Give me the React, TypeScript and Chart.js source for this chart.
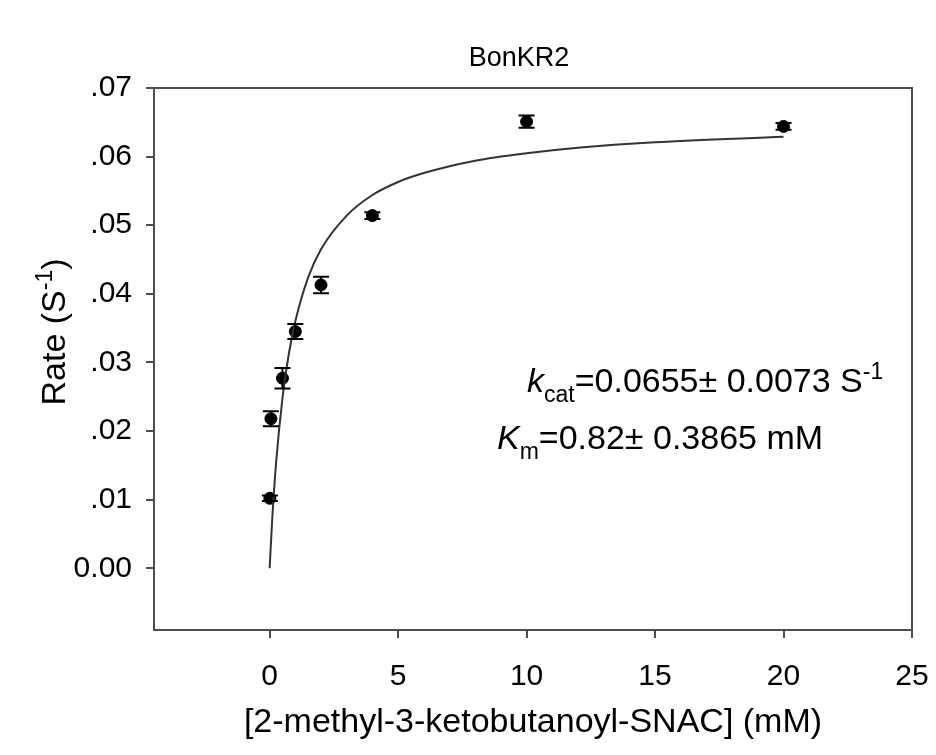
import React, { useEffect, useRef } from "react";
import { Chart, registerables } from "chart.js";

Chart.register(...registerables);

// ---- data ----
const concentrations = [0.01, 0.05, 0.5, 1, 2, 4, 10, 20];
const rates = [0.0102, 0.0218, 0.0277, 0.0345, 0.0413, 0.0514, 0.0651, 0.0644];
const rateErrors = [0.0004, 0.0011, 0.0015, 0.0011, 0.0012, 0.0005, 0.0009, 0.0005];

const fitX = [0, 0.1, 0.25, 0.5, 0.75, 1, 1.5, 2, 3, 4, 5, 6, 8, 10, 12, 15, 20];
const fitY = [0, 0.0071, 0.0153, 0.0248, 0.0313, 0.036, 0.0424, 0.0465, 0.0514, 0.0544, 0.0563, 0.0576, 0.0594, 0.0605, 0.0613, 0.0621, 0.0629];

const xTicks = [0, 5, 10, 15, 20, 25];
const yTicks = [0, 0.01, 0.02, 0.03, 0.04, 0.05, 0.06, 0.07];
const yTickLabels = ["0.00", ".01", ".02", ".03", ".04", ".05", ".06", ".07"];

const chartTitle = "BonKR2";
const xTitle = "[2-methyl-3-ketobutanoyl-SNAC] (mM)";

const FONT = "'Liberation Sans', Arial, sans-serif";
const TICK_FS = 30;
const TITLE_FS = 27;
const LABEL_FS = 34;
const AXIS_COLOR = "#4d4d4d";

const framePlugin = {
  id: "frame",
  afterDatasetsDraw(chart: any) {
    const { ctx, chartArea } = chart;
    ctx.save();
    ctx.strokeStyle = AXIS_COLOR;
    ctx.lineWidth = 2;
    ctx.beginPath();
    ctx.moveTo(chartArea.left, chartArea.top);
    ctx.lineTo(chartArea.right, chartArea.top);
    ctx.lineTo(chartArea.right, chartArea.bottom);
    ctx.stroke();
    ctx.restore();
  },
};

const errorBarPlugin = {
  id: "errorBars",
  afterDatasetsDraw(chart: any) {
    const { ctx } = chart;
    const xs = chart.scales.x;
    const ys = chart.scales.y;
    ctx.save();
    ctx.strokeStyle = "#000";
    ctx.lineWidth = 2;
    concentrations.forEach((c, i) => {
      const px = xs.getPixelForValue(c);
      const top = ys.getPixelForValue(rates[i] + rateErrors[i]);
      const bot = ys.getPixelForValue(rates[i] - rateErrors[i]);
      ctx.beginPath();
      ctx.moveTo(px, top);
      ctx.lineTo(px, bot);
      ctx.moveTo(px - 8, top);
      ctx.lineTo(px + 8, top);
      ctx.moveTo(px - 8, bot);
      ctx.lineTo(px + 8, bot);
      ctx.stroke();
    });
    ctx.restore();
  },
};

type Part = { t: string; italic?: boolean; sub?: boolean; sup?: boolean };

function drawRich(ctx: CanvasRenderingContext2D, x: number, y: number, parts: Part[], size: number) {
  let cx = x;
  parts.forEach((p) => {
    const s = p.sub || p.sup ? Math.round(size * 0.68) : size;
    ctx.font = `${p.italic ? "italic " : ""}${s}px ${FONT}`;
    const dy = p.sub ? size * 0.28 : p.sup ? -size * 0.38 : 0;
    ctx.fillText(p.t, cx, y + dy);
    cx += ctx.measureText(p.t).width;
  });
  return cx - x;
}

function measureRich(ctx: CanvasRenderingContext2D, parts: Part[], size: number) {
  let w = 0;
  parts.forEach((p) => {
    const s = p.sub || p.sup ? Math.round(size * 0.68) : size;
    ctx.font = `${p.italic ? "italic " : ""}${s}px ${FONT}`;
    w += ctx.measureText(p.t).width;
  });
  return w;
}

const textPlugin = {
  id: "texts",
  afterDraw(chart: any) {
    const { ctx } = chart;
    ctx.save();
    ctx.fillStyle = "#000";
    ctx.textBaseline = "alphabetic";
    ctx.textAlign = "center";
    ctx.font = `${TITLE_FS}px ${FONT}`;
    ctx.fillText(chartTitle, 519, 66);
    ctx.textAlign = "left";
    drawRich(ctx, 527, 392, [
      { t: "k", italic: true },
      { t: "cat", sub: true },
      { t: "=0.0655\u00b1 0.0073 S" },
      { t: "-1", sup: true },
    ], LABEL_FS);
    drawRich(ctx, 497, 449, [
      { t: "K", italic: true },
      { t: "m", sub: true },
      { t: "=0.82\u00b1 0.3865 mM" },
    ], LABEL_FS);
    // y axis title
    const yParts: Part[] = [{ t: "Rate (S" }, { t: "-1", sup: true }, { t: ")" }];
    const w = measureRich(ctx, yParts, LABEL_FS);
    ctx.translate(65, 332);
    ctx.rotate(-Math.PI / 2);
    drawRich(ctx, -w / 2, 0, yParts, LABEL_FS);
    ctx.restore();
  },
};

export default function App() {
  const ref = useRef<HTMLCanvasElement | null>(null);
  useEffect(() => {
    document.body.style.margin = "0";
    const canvas = ref.current!;
    const chart = new Chart(canvas, {
      type: "scatter",
      data: {
        datasets: [
          {
            type: "line",
            data: fitX.map((x, i) => ({ x, y: fitY[i] })),
            borderColor: "#333",
            borderWidth: 2,
            pointRadius: 0,
            fill: false,
            cubicInterpolationMode: "monotone",
          } as any,
          {
            data: concentrations.map((x, i) => ({ x, y: rates[i] })),
            backgroundColor: "#000",
            borderColor: "#000",
            pointRadius: 6,
          },
        ],
      },
      options: {
        animation: false,
        responsive: false,
        layout: { padding: { left: 0, right: 24, top: 88, bottom: 0 } },
        plugins: {
          legend: { display: false },
          tooltip: { enabled: false },
          title: { display: false },
        },
        scales: {
          x: {
            type: "linear",
            min: -4.5,
            max: 25,
            afterBuildTicks: (s: any) => {
              s.ticks = xTicks.map((v) => ({ value: v }));
            },
            afterFit: (s: any) => {
              s.height = 125;
              s.paddingLeft = 0;
              s.paddingRight = 0;
            },
            ticks: {
              color: "#000",
              font: { family: FONT, size: TICK_FS },
              padding: 21,
              maxRotation: 0,
              autoSkip: false,
              callback: (v: any) => String(v),
            },
            grid: {
              drawOnChartArea: false,
              drawTicks: true,
              tickLength: 8,
              color: AXIS_COLOR,
              lineWidth: 2,
            },
            border: { display: true, color: AXIS_COLOR, width: 2 },
            title: {
              display: true,
              text: xTitle,
              color: "#000",
              font: { family: FONT, size: LABEL_FS },
              padding: { top: 0, bottom: 12 },
            },
          },
          y: {
            type: "linear",
            min: -0.009,
            max: 0.07,
            afterBuildTicks: (s: any) => {
              s.ticks = yTicks.map((v) => ({ value: v }));
            },
            afterFit: (s: any) => {
              s.width = 154;
              s.paddingTop = 0;
              s.paddingBottom = 0;
            },
            ticks: {
              color: "#000",
              font: { family: FONT, size: TICK_FS },
              padding: 14,
              autoSkip: false,
              callback: (v: any) => {
                const i = yTicks.findIndex((t) => Math.abs(t - v) < 1e-9);
                return i >= 0 ? yTickLabels[i] : "";
              },
            },
            grid: {
              drawOnChartArea: false,
              drawTicks: true,
              tickLength: 8,
              color: AXIS_COLOR,
              lineWidth: 2,
            },
            border: { display: true, color: AXIS_COLOR, width: 2 },
          },
        },
      },
      plugins: [framePlugin, errorBarPlugin, textPlugin],
    });
    return () => chart.destroy();
  }, []);
  return <canvas ref={ref} width={936} height={755} style={{ display: "block" }} />;
}
